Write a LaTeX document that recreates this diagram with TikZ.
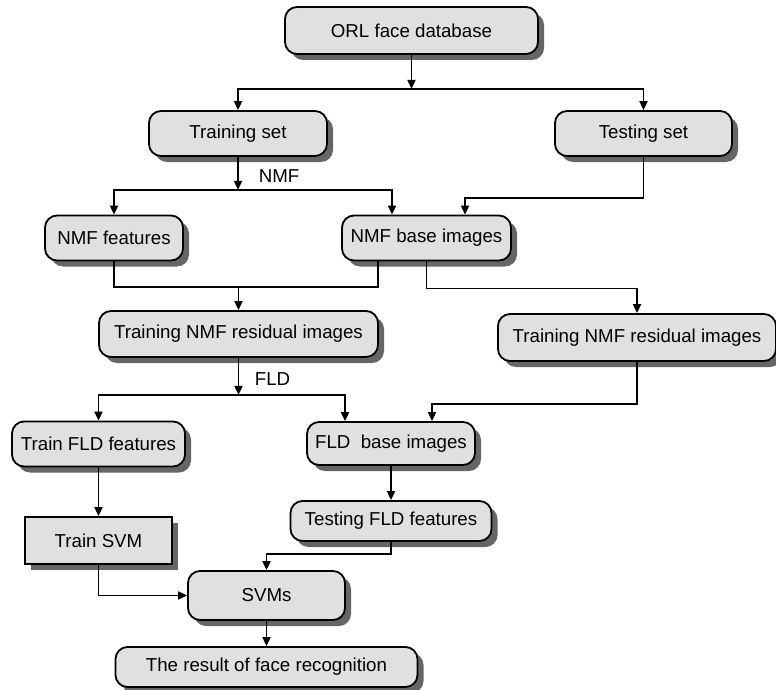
\documentclass[tikz,border=0pt]{standalone}
\usepackage{fontspec}
\setmainfont{Liberation Sans}
\usetikzlibrary{arrows.meta, shadows}
\tikzstyle{roundbox} = [rectangle, rounded corners=12pt, minimum height=45pt, inner sep=2pt, text centered, draw=black, fill=black!12, line width=1.8pt, drop shadow={shadow xshift=6pt, shadow yshift=-6pt, fill=black!60, opacity=1}]
\tikzstyle{sharpbox} = [roundbox, sharp corners]
\tikzstyle{arrow} = [line width=1.8pt, ->, >={Triangle[length=9pt, width=8pt]}]
\tikzstyle{conn} = [line width=1.8pt]
\tikzstyle{lbl} = [inner sep=0pt, anchor=west]
\begin{document}
\begin{tikzpicture}[node distance=95pt, font=\fontsize{18.7pt}{22pt}\selectfont]
\useasboundingbox (0,0) rectangle (776pt,-690pt);
\node (orl) [roundbox, minimum width=253pt, minimum height=47pt] at (411.5pt,-30.5pt) {ORL face database};
\node (train) [roundbox, below of=orl, minimum width=178pt, xshift=-173.5pt, yshift=-8pt] {Training set};
\node (test) [roundbox, below of=orl, minimum width=177pt, xshift=232pt, yshift=-8pt] {Testing set};
\node (nmffeat) [roundbox, below of=train, minimum width=138pt, xshift=-124pt, yshift=-9.5pt] {NMF features};
\node (nmfbase) [roundbox, below of=train, minimum width=169pt, xshift=188.5pt, yshift=-9.5pt] {NMF base images};
\node (resid1) [roundbox, below of=nmffeat, minimum width=279pt, minimum height=46pt, xshift=124.5pt, yshift=-1pt] {Training NMF residual images};
\node (resid2) [roundbox, below of=nmfbase, minimum width=278pt, minimum height=47pt, xshift=210.5pt, yshift=-4.5pt] {Training NMF residual images};
\node (trainfld) [roundbox, below of=resid1, minimum width=173pt, xshift=-140pt, yshift=-15pt] {Train FLD features};
\node (fldbase) [roundbox, below of=resid1, minimum width=168pt, minimum height=43pt, xshift=152.5pt, yshift=-14.5pt] {FLD\ \ base images};
\node (testfld) [roundbox, below of=fldbase, minimum width=201pt, minimum height=40pt, yshift=17.5pt] {Testing FLD features};
\node (trainsvm) [sharpbox, below of=trainfld, minimum width=147pt, minimum height=47pt, yshift=-1.5pt] {Train SVM};
\node (svms) [roundbox, below of=trainsvm, minimum width=157pt, minimum height=49pt, xshift=168pt, yshift=40pt] {SVMs};
\node (result) [roundbox, below of=svms, minimum width=302pt, minimum height=40pt, yshift=23.5pt] {The result of face recognition};
% split points
\path (orl.south) ++(0,-34pt) coordinate (s1);
\path (train.south) ++(0,-33pt) coordinate (s2);
\path (resid1.north) ++(0,23pt) coordinate (s3);
\path (resid1.south) ++(0,-37pt) coordinate (s4);
\draw [arrow] (orl) -- (s1);
\draw [arrow] (s1) -| (train);
\draw [arrow] (s1) -| (test);
\draw [arrow] (train) -- node [lbl, xshift=20pt, yshift=-3pt] {NMF} (s2);
\draw [arrow] (s2) -| (nmffeat);
\draw [arrow] (s2) -| ([xshift=-34.5pt]nmfbase.north);
\draw [arrow] (test.south) -- ++(0,-41pt) -| ([xshift=38.5pt]nmfbase.north);
\draw [conn] (nmffeat.south) |- (s3) -| ([xshift=-48.5pt]nmfbase.south);
\draw [arrow] (s3) -- (resid1);
\draw [arrow] (nmfbase.south) -- ++(0,-27pt) -| (resid2);
\draw [arrow] (resid1) -- node [lbl, xshift=15.5pt, yshift=-3pt] {FLD} (s4);
\draw [arrow] (s4) -| (trainfld);
\draw [arrow] (s4) -| ([xshift=-46pt]fldbase.north);
\draw [arrow] (resid2.south) -- ++(0,-42pt) -| ([xshift=41pt]fldbase.north);
\draw [arrow] (fldbase) -- (testfld);
\draw [arrow] (trainfld) -- (trainsvm);
\draw [arrow] (testfld.south) -- ++(0,-12pt) -| (svms);
\draw [arrow] (trainsvm) |- (svms);
\draw [arrow] (svms) -- (result);
\end{tikzpicture}
\end{document}
